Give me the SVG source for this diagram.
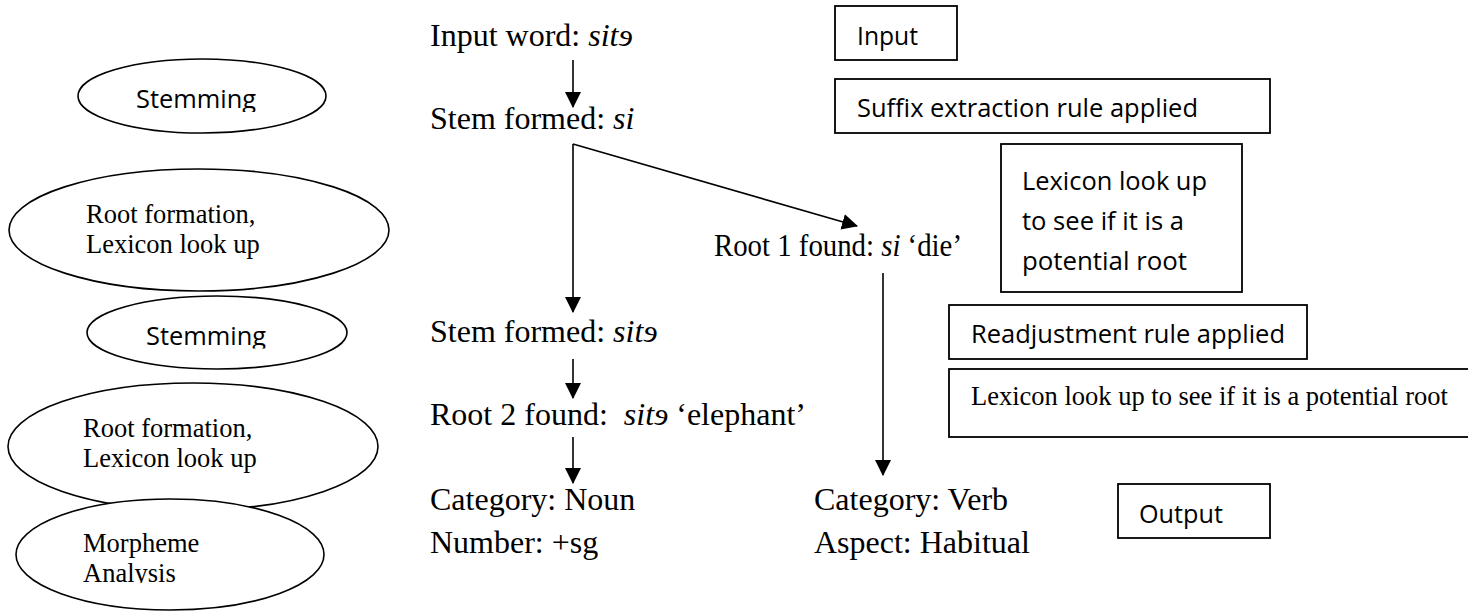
<svg xmlns="http://www.w3.org/2000/svg" width="1468" height="611" viewBox="0 0 1468 611">
  <defs>
    <style>
      .stage { fill: #fff; stroke: #000; stroke-width: 1.6; }
      .box { fill: #fff; stroke: #000; stroke-width: 1.8; }
      .serif { font-family: "Liberation Serif", "Times New Roman", serif; fill: #000; }
      .sans { font-family: "Open Sans", "Liberation Sans", sans-serif; fill: #000; }
      .step { font-size: 32px; }
      .oval { font-size: 26.5px; }
      .note { font-size: 25px; }
      .flow { fill: none; stroke: #000; stroke-width: 1.6; marker-end: url(#head); }
    </style>
    <marker id="head" markerUnits="userSpaceOnUse" markerWidth="16" markerHeight="16" viewBox="0 0 15 15" refX="14" refY="7.5" orient="auto">
      <path d="M0,0 L15,7.5 L0,15 z" fill="#000"/>
    </marker>
    <clipPath id="cutStem1"><rect x="0" y="0" width="420" height="112"/></clipPath>
    <clipPath id="cutStem2"><rect x="0" y="280" width="420" height="68.5"/></clipPath>
    <clipPath id="cutMorph"><rect x="0" y="480" width="420" height="103"/></clipPath>
  </defs>

  <!-- processing stages (left column) -->
  <g id="stage-stemming-1">
    <ellipse class="stage" cx="202" cy="96" rx="124" ry="37"/>
    <text class="sans note" x="136" y="108" font-size="24.5" textLength="120" lengthAdjust="spacingAndGlyphs" clip-path="url(#cutStem1)">Stemming</text>
  </g>
  <g id="stage-root-1">
    <ellipse class="stage" cx="199" cy="230" rx="190" ry="61"/>
    <text class="serif oval" x="86" y="223">Root formation,</text>
    <text class="serif oval" x="86" y="253">Lexicon look up</text>
  </g>
  <g id="stage-stemming-2">
    <ellipse class="stage" cx="217" cy="332.5" rx="130" ry="36.5"/>
    <text class="sans note" x="146" y="345" font-size="24.5" textLength="120" lengthAdjust="spacingAndGlyphs" clip-path="url(#cutStem2)">Stemming</text>
  </g>
  <g id="stage-root-2">
    <ellipse class="stage" cx="193" cy="446.5" rx="185" ry="63.5"/>
    <text class="serif oval" x="83" y="437">Root formation,</text>
    <text class="serif oval" x="83" y="467">Lexicon look up</text>
  </g>
  <g id="stage-morpheme">
    <ellipse class="stage" cx="170" cy="554.5" rx="154" ry="55.5"/>
    <g clip-path="url(#cutMorph)">
      <text class="serif oval" x="83" y="552">Morpheme</text>
      <text class="serif oval" x="83" y="582">Analysis</text>
    </g>
  </g>

  <!-- analysis steps (middle column) -->
  <g id="step-input">
    <text class="serif step" x="430" y="46">Input word: <tspan font-style="italic">sitɘ</tspan></text>
  </g>
  <g id="step-stem-1">
    <text class="serif step" x="430" y="129">Stem formed: <tspan font-style="italic">si</tspan></text>
  </g>
  <g id="step-root-1">
    <text class="serif step" x="714" y="256" textLength="248" lengthAdjust="spacingAndGlyphs">Root 1 found: <tspan font-style="italic">si</tspan> ‘die’</text>
  </g>
  <g id="step-stem-2">
    <text class="serif step" x="430" y="342">Stem formed: <tspan font-style="italic">sitɘ</tspan></text>
  </g>
  <g id="step-root-2">
    <text class="serif step" x="430" y="425" xml:space="preserve">Root 2 found:  <tspan font-style="italic">sitɘ</tspan> ‘elephant’</text>
  </g>
  <g id="result-noun">
    <text class="serif step" x="430" y="510">Category: Noun</text>
    <text class="serif step" x="430" y="553">Number: +sg</text>
  </g>
  <g id="result-verb">
    <text class="serif step" x="814" y="510">Category: Verb</text>
    <text class="serif step" x="814" y="553">Aspect: Habitual</text>
  </g>

  <!-- rule notes (right column) -->
  <g id="note-input">
    <rect class="box" x="835" y="6" width="122" height="54"/>
    <text class="sans note" x="857" y="45" textLength="61" lengthAdjust="spacingAndGlyphs">Input</text>
  </g>
  <g id="note-suffix">
    <rect class="box" x="835" y="79" width="435" height="54"/>
    <text class="sans note" x="857" y="117" textLength="341" lengthAdjust="spacingAndGlyphs">Suffix extraction rule applied</text>
  </g>
  <g id="note-lookup-1">
    <rect class="box" x="1001" y="144" width="241" height="148"/>
    <text class="sans note" x="1022" y="190" textLength="185" lengthAdjust="spacingAndGlyphs">Lexicon look up</text>
    <text class="sans note" x="1022" y="230" textLength="162" lengthAdjust="spacingAndGlyphs">to see if it is a</text>
    <text class="sans note" x="1022" y="270" textLength="165" lengthAdjust="spacingAndGlyphs">potential root</text>
  </g>
  <g id="note-readjust">
    <rect class="box" x="949" y="305" width="358" height="54"/>
    <text class="sans note" x="971" y="343" textLength="314" lengthAdjust="spacingAndGlyphs">Readjustment rule applied</text>
  </g>
  <g id="note-lookup-2">
    <rect class="box" x="949" y="369" width="530" height="68"/>
    <text class="serif oval" x="971" y="405">Lexicon look up to see if it is a potential root</text>
  </g>
  <g id="note-output">
    <rect class="box" x="1118" y="484" width="152" height="54"/>
    <text class="sans note" x="1139" y="523" textLength="84" lengthAdjust="spacingAndGlyphs">Output</text>
  </g>

  <!-- connectors -->
  <g id="connectors">
    <line class="flow" x1="573" y1="60" x2="573" y2="107"/>
    <line class="flow" x1="573" y1="144" x2="573" y2="312"/>
    <line class="flow" x1="573" y1="144" x2="857" y2="226"/>
    <line class="flow" x1="573" y1="359" x2="573" y2="398"/>
    <line class="flow" x1="573" y1="437" x2="573" y2="483"/>
    <line class="flow" x1="883" y1="273" x2="883" y2="475"/>
  </g>
</svg>
